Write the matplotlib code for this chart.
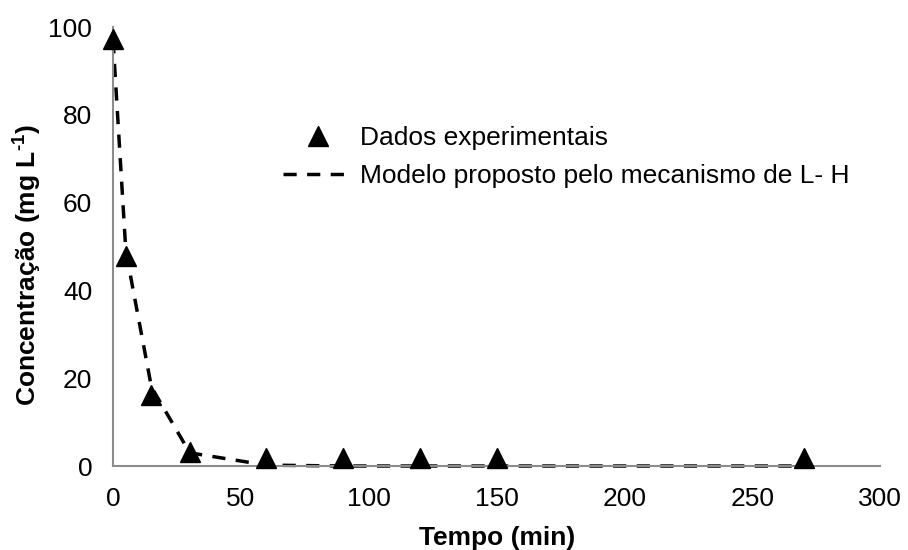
import matplotlib
matplotlib.use("Agg")
import matplotlib.pyplot as plt

plt.rcParams["font.family"] = ["Liberation Sans", "DejaVu Sans"]
plt.rcParams["mathtext.fontset"] = "custom"
plt.rcParams["mathtext.rm"] = "Liberation Sans:bold"
plt.rcParams["mathtext.bf"] = "Liberation Sans:bold"

# experimental data
tempo = [0, 5, 15, 30, 60, 90, 120, 150, 270]
conc_exp = [97.3, 47.9, 16.2, 3.2, 1.8, 1.8, 1.8, 1.8, 1.8]

# L-H model curve
tempo_mod = [0, 5, 15, 30, 60, 90, 120, 150, 270]
conc_mod = [97, 49, 18, 3.0, 0.2, 0.0, 0.0, 0.0, 0.0]

AXIS_GRAY = "#8c8c8c"
FS = 19

fig = plt.figure(figsize=(9.08, 5.5), dpi=100)
ax = fig.add_axes([0.1245, 0.1527, 0.845, 0.798])

ax.plot(tempo_mod, conc_mod, color="black", linewidth=2.5,
        linestyle=(0, (3.8, 3.0)), label="Modelo proposto pelo mecanismo de L- H",
        zorder=2, clip_on=False)
ax.plot(tempo, conc_exp, linestyle="none", marker="^", markersize=14.5,
        color="black", label="Dados experimentais", zorder=3, clip_on=False)

ax.set_xlim(0, 300)
ax.set_ylim(0, 100)
ax.set_xticks(range(0, 301, 50))
ax.set_yticks(range(0, 101, 20))
ax.tick_params(length=0, labelsize=FS, pad=15)

for spine in ("top", "right"):
    ax.spines[spine].set_visible(False)
for spine in ("left", "bottom"):
    ax.spines[spine].set_color(AXIS_GRAY)
    ax.spines[spine].set_linewidth(1.5)

ax.set_xlabel("Tempo (min)", fontsize=FS, fontweight="bold", labelpad=11)
ax.set_ylabel(r"Concentração (mg L$^{\text{-1}}$)", fontsize=FS,
              fontweight="bold", va="center")
ax.yaxis.set_label_coords(-0.113, 0.458)

handles, labels = ax.get_legend_handles_labels()
ax.legend(handles[::-1], labels[::-1], loc="upper left",
          bbox_to_anchor=(283 / 908, 1 - 126 / 550), bbox_transform=fig.transFigure,
          borderaxespad=0, borderpad=0, frameon=False, fontsize=FS,
          handlelength=2.65, handletextpad=0.27, labelspacing=0.53)

fig.savefig("out.png", dpi=100)
